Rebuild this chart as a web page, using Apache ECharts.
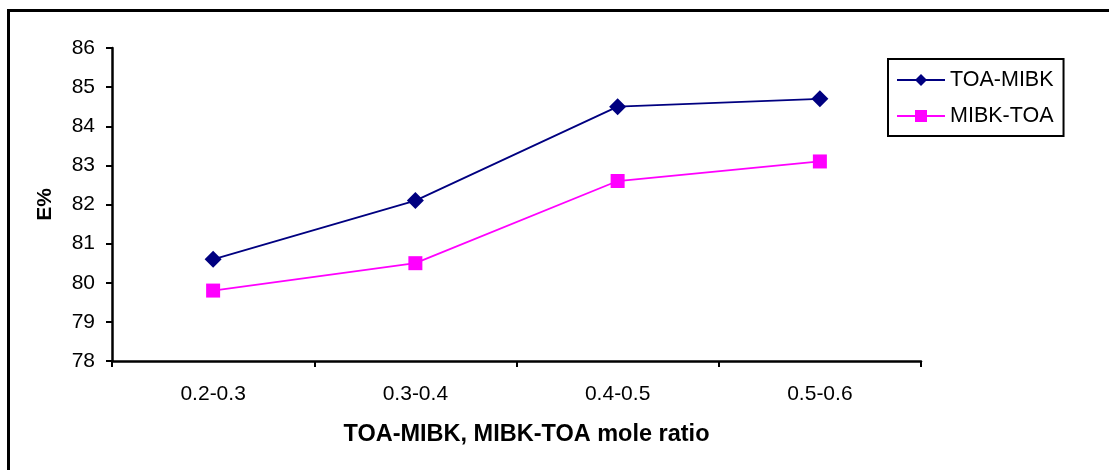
<!DOCTYPE html>
<html><head><meta charset="utf-8">
<script src="https://cdn.jsdelivr.net/npm/echarts@6/dist/echarts.min.js"></script>
<style>html,body{margin:0;padding:0;background:#fff}#c{width:1109px;height:470px}</style>
</head><body><div id="c"></div>
<script>
var categories = ['0.2-0.3', '0.3-0.4', '0.4-0.5', '0.5-0.6'];
var toaMibk = [80.6, 82.1, 84.5, 84.7];
var mibkToa = [79.8, 80.5, 82.6, 83.1];
var seriesNames = ['TOA-MIBK', 'MIBK-TOA'];
var yTicks = [78, 79, 80, 81, 82, 83, 84, 85, 86];

var chart = echarts.init(document.getElementById('c'));
var font = '"Liberation Sans", Arial, sans-serif';
chart.setOption({
  animation: false,
  backgroundColor: '#fff',
  graphic: [{
    type: 'rect', shape: {x: 8.5, y: 10.5, width: 1200, height: 600},
    style: {fill: 'none', stroke: '#000', lineWidth: 3}, silent: true
  }],
  grid: {left: 112, right: 188, top: 48, bottom: 109},
  legend: {
    orient: 'vertical', left: 888, top: 59,
    padding: [10, 10, 9, 8], itemGap: 14,
    borderColor: '#000', borderWidth: 2, backgroundColor: '#fff',
    itemWidth: 48, itemHeight: 15,
    textStyle: {fontFamily: font, fontSize: 21.5, lineHeight: 21, color: '#000', padding: [0, 0, 0, 0]},
    data: seriesNames
  },
  xAxis: {
    type: 'category', data: categories, boundaryGap: true,
    axisLine: {lineStyle: {color: '#000', width: 2.5}},
    axisTick: {show: true, length: 6, lineStyle: {color: '#000', width: 2}},
    axisLabel: {fontFamily: font, fontSize: 21, color: '#000', margin: 23},
    name: 'TOA-MIBK, MIBK-TOA mole ratio', nameLocation: 'middle', nameGap: 62,
    nameTextStyle: {fontFamily: font, fontSize: 23.5, fontWeight: 'bold', color: '#000', padding: [0, 0, 0, 20]}
  },
  yAxis: {
    type: 'value', min: yTicks[0], max: yTicks[yTicks.length - 1], interval: 1,
    axisLine: {show: true, lineStyle: {color: '#000', width: 2.5}},
    axisTick: {show: true, length: 6, lineStyle: {color: '#000', width: 2}},
    splitLine: {show: false},
    axisLabel: {fontFamily: font, fontSize: 21, color: '#000', margin: 17},
    name: 'E%', nameLocation: 'middle', nameGap: 56, nameRotate: 90,
    nameTextStyle: {fontFamily: font, fontSize: 21, fontWeight: 'bold', color: '#000'}
  },
  series: [{
    name: seriesNames[0], type: 'line', data: toaMibk,
    symbol: 'diamond', symbolSize: 17,
    lineStyle: {color: '#000080', width: 1.8},
    itemStyle: {color: '#000080'}
  }, {
    name: seriesNames[1], type: 'line', data: mibkToa,
    symbol: 'rect', symbolSize: 14,
    lineStyle: {color: '#ff00ff', width: 1.8},
    itemStyle: {color: '#ff00ff'}
  }]
});
</script></body></html>
